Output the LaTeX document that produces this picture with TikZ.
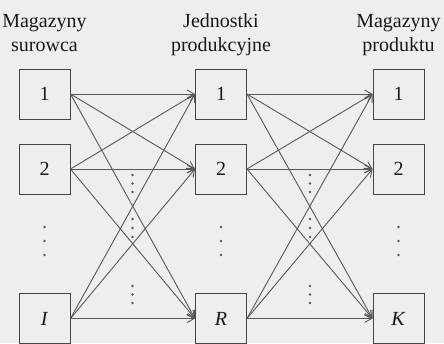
\documentclass[tikz,border=0pt]{standalone}
\usepackage{fontspec}
\setmainfont{Liberation Serif}
\usetikzlibrary{arrows.meta}
\definecolor{paper}{HTML}{EEEEEE}
\definecolor{ink}{HTML}{454545}
\definecolor{wire}{HTML}{585858}
\begin{document}
\begin{tikzpicture}[x=1pt,y=-1pt,
  box/.style={draw=ink, line width=1pt, minimum width=51pt, minimum height=50pt,
    inner sep=0pt, font=\fontsize{20}{22}\selectfont, text=black!90},
  head/.style={anchor=base, inner sep=0pt, font=\fontsize{20}{24}\selectfont, text=black!90},
  link/.style={draw=wire, line width=0.9pt, -{Straight Barb[length=7pt,width=8pt,line width=0.9pt]}},
  dot/.style={circle, fill=wire, inner sep=0pt, minimum size=2.6pt}]
  % canvas
  \fill[paper] (0,0) rectangle (444,343);
  \useasboundingbox (0,0) rectangle (444,343);
  \begin{scope}
    \clip (0,0) rectangle (444,343);

    % column headings
    \node[head] (h1a) at (44.5,27) {Magazyny};
    \node[head] (h1b) at (44.5,51) {surowca};
    \node[head] (h2a) at (221,27) {Jednostki};
    \node[head] (h2b) at (221,51) {produkcyjne};
    \node[head] (h3a) at (398.5,27) {Magazyny};
    \node[head] (h3b) at (398.5,51) {produktu};

    % raw material stores
    \node[box] (s1) at (44.5,94) {1};
    \node[box] (s2) at (44.5,169) {2};
    \node[box] (sI) at (44.5,318.5) {\textit{I}};
    % production units
    \node[box] (p1) at (221,94) {1};
    \node[box] (p2) at (221,169) {2};
    \node[box] (pR) at (221,318.5) {\textit{R}};
    % product stores
    \node[box] (k1) at (398.5,94) {1};
    \node[box] (k2) at (398.5,169) {2};
    \node[box] (kK) at (398.5,318.5) {\textit{K}};

    % flows between stages
    \foreach \a in {s1,s2,sI}
      \foreach \b in {p1,p2,pR}
        \draw[link] (\a.east) -- (\b.west);
    \foreach \a in {p1,p2,pR}
      \foreach \b in {k1,k2,kK}
        \draw[link] (\a.east) -- (\b.west);

    % vertical ellipses in the columns
    \foreach \x in {44.5,221,398.5}
      \foreach \y in {227,241,255}
        \node[dot] (cd-\x-\y) at (\x,\y) {};
    % vertical ellipses between the columns
    \foreach \x in {132.5,310}
      \foreach \y in {175,183.5,192,219,228,237,286,294.5,303}
        \node[dot] (gd-\x-\y) at (\x,\y) {};
  \end{scope}
\end{tikzpicture}
\end{document}
